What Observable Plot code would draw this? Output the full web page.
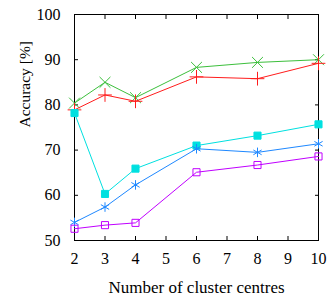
<!DOCTYPE html>
<html>
<head>
<meta charset="utf-8">
<script src="https://cdn.jsdelivr.net/npm/d3@7"></script>
<script src="https://cdn.jsdelivr.net/npm/@observablehq/plot@0.6"></script>
<style>
  html, body { margin: 0; padding: 0; background: #fff; }
  svg text { font-family: "Liberation Serif", "Times New Roman", serif; }
</style>
</head>
<body>
<div id="chart"></div>
<script>
const clusters = [2, 3, 4, 6, 8, 10];
const greenX   = [80.4, 85.0, 81.6, 88.3, 89.4, 90.0];
const redPlus  = [78.9, 82.2, 80.8, 86.2, 85.8, 89.2];
const cyanSq   = [78.2, 60.3, 65.9, 71.0, 73.2, 75.7];
const blueStar = [54.0, 57.4, 62.3, 70.3, 69.5, 71.4];
const magSq    = [52.6, 53.4, 53.9, 65.1, 66.7, 68.6];
const xTicks = [2, 3, 4, 5, 6, 7, 8, 9, 10];
const yTicks = [50, 60, 70, 80, 90, 100];
const xLabel = "Number of cluster centres";
const yLabel = "Accuracy [%]";

const seriesDefs = [
  {name: "green", values: greenX, color: "#3cbf3c", symbol: "times", fill: "none", r: 5},
  {name: "red", values: redPlus, color: "#ff1c1c", symbol: "plus", fill: "none", r: 4.5},
  {name: "cyan", values: cyanSq, color: "#00e0e0", symbol: "square", fill: "#00e0e0", r: 4},
  {name: "blue", values: blueStar, color: "#1e88ff", symbol: "asterisk", fill: "none", r: 4.5},
  {name: "magenta", values: magSq, color: "#c000ff", symbol: "square", fill: "none", r: 4}
];

const serif = "Liberation Serif, Times New Roman, serif";
const marks = [];
for (const s of seriesDefs) {
  const data = clusters.map((c, i) => ({x: c, y: s.values[i]}));
  marks.push(Plot.line(data, {x: "x", y: "y", stroke: s.color, strokeWidth: 1}));
  if (s.fill === "none") {
    marks.push(Plot.dot(data, {x: "x", y: "y", stroke: s.color, fill: "none", symbol: s.symbol, r: s.r, strokeWidth: 1}));
  } else {
    marks.push(Plot.dot(data, {x: "x", y: "y", fill: s.fill, stroke: s.fill, symbol: s.symbol, r: s.r, strokeWidth: 1}));
  }
}

const chart = Plot.plot({
  width: 330,
  height: 301,
  marginLeft: 74,
  marginRight: 12,
  marginTop: 14,
  marginBottom: 61,
  style: {fontFamily: serif, fontSize: "16px", color: "#000", background: "#fff"},
  x: {domain: [2, 10]},
  y: {domain: [50, 100]},
  marks: [
    Plot.frame({stroke: "#000", strokeWidth: 1}),
    Plot.axisX(xTicks, {anchor: "bottom", tickSize: 0, tickPadding: 12, label: xLabel, labelAnchor: "center", labelArrow: "none", labelOffset: 52, fontSize: 16, fontFamily: serif}),
    Plot.axisX(xTicks, {anchor: "bottom", tickSize: -4, tickFormat: () => "", label: null}),
    Plot.axisX(xTicks, {anchor: "top", tickSize: -4, tickFormat: () => "", label: null}),
    Plot.axisY(yTicks, {anchor: "left", tickSize: 0, tickPadding: 14, label: null, fontSize: 16, fontFamily: serif}),
    Plot.axisY(yTicks, {anchor: "left", tickSize: -4, tickFormat: () => "", label: null}),
    Plot.axisY(yTicks, {anchor: "right", tickSize: -4, tickFormat: () => "", label: null}),
    Plot.text([yLabel], {text: d => d, frameAnchor: "left", rotate: -90, dx: -49, dy: 0, fontSize: 15.5, fontFamily: serif, fill: "#000"}),
    ...marks
  ]
});
document.getElementById("chart").appendChild(chart);
d3.select(chart).selectAll("[aria-label='x-axis label'] text").style("font-size", "17px");
</script>
</body>
</html>
